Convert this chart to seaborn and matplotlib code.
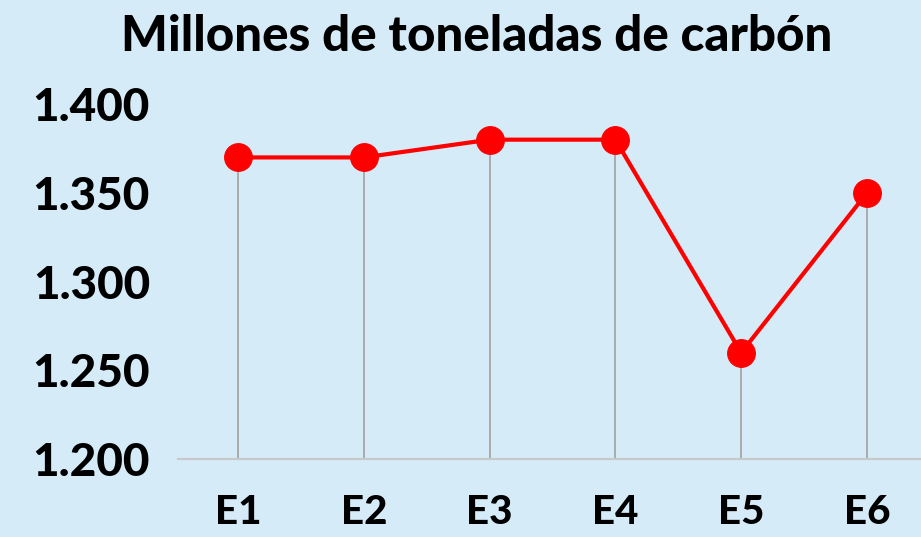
import matplotlib
matplotlib.use("Agg")
import matplotlib.pyplot as plt
import pandas as pd
import seaborn as sns

categories = ["E1", "E2", "E3", "E4", "E5", "E6"]
values = [1.370, 1.370, 1.380, 1.380, 1.260, 1.350]
yticks = [1.200, 1.250, 1.300, 1.350, 1.400]

bg = "#D5EBF8"

sns.set_style("white")
plt.rcParams["font.family"] = ["Lato", "DejaVu Sans"]
plt.rcParams["text.color"] = "black"
plt.rcParams["xtick.color"] = "black"
plt.rcParams["ytick.color"] = "black"

df = pd.DataFrame({"escenario": categories, "valor": values})
df["pos"] = range(len(df))

fig = plt.figure(figsize=(9.21, 5.37), dpi=100, facecolor=bg)
ax = fig.add_axes([0.193, 0.145, 0.807, 0.661])
ax.set_facecolor(bg)

# drop lines to the baseline
ax.vlines(df["pos"], yticks[0], df["valor"], color="#A6A6A6", linewidth=1.3, zorder=1)

sns.lineplot(
    data=df, x="pos", y="valor", ax=ax, color="#FF0000", linewidth=3,
    marker="o", markersize=20, markeredgecolor="#FF0000", zorder=3,
)

ax.set_xlim(-0.48, 5.43)
ax.set_ylim(yticks[0], yticks[-1])
ax.set_yticks(yticks)
ax.set_yticklabels([f"{v:.3f}" for v in yticks], fontsize=33, fontweight="black")
ax.set_xticks(df["pos"])
ax.set_xticklabels(categories, fontsize=29, fontweight="black")
ax.tick_params(axis="y", length=0, pad=20)
ax.tick_params(axis="x", length=0, pad=25)
ax.set_xlabel("")
ax.set_ylabel("")

for side in ["top", "right", "left"]:
    ax.spines[side].set_visible(False)
ax.spines["bottom"].set_color("#C8C8C8")
ax.spines["bottom"].set_linewidth(1.5)

fig.text(0.518, 0.932, "Millones de toneladas de carbón", ha="center", va="center",
         fontsize=35.5, fontweight="black")

fig.savefig("out.png", dpi=100, facecolor=bg)
